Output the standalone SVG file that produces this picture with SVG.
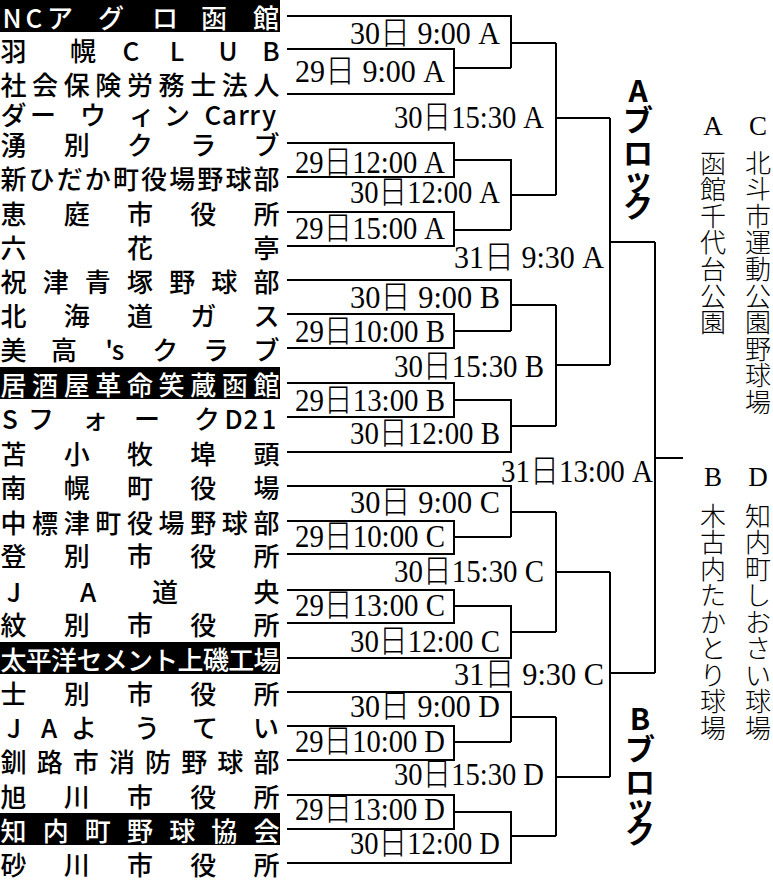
<svg xmlns="http://www.w3.org/2000/svg" width="773" height="880" viewBox="0 0 773 880">
<style>
.t{font-family:"Noto Sans CJK JP","Noto Sans",sans-serif;font-size:26px;font-weight:500;text-anchor:middle;dominant-baseline:central;fill:#000}
.w{fill:#fff}
.bg{fill:#000}
.m{font-family:"Liberation Serif","Noto Sans CJK JP",serif;font-size:32px;fill:#000}
.d{font-family:"Noto Sans CJK JP",sans-serif;font-weight:300}
.c{fill:none;stroke:#000;stroke-width:2}
.blk{font-family:"Noto Sans CJK JP","Noto Sans",sans-serif;font-weight:700;font-size:30px;text-anchor:middle;dominant-baseline:central;fill:#000}
.v{font-family:"Noto Sans CJK JP",sans-serif;font-size:26px;font-weight:300;text-anchor:middle;dominant-baseline:central;fill:#000}
.vl{font-family:"Liberation Serif",serif;font-size:27px;text-anchor:middle;dominant-baseline:central;fill:#000}
</style>
<rect width="773" height="880" fill="#fff"/>

<g id="teams">
<g id="team-01"><rect class="bg" x="0" y="0" width="280" height="32"/><text class="t w" y="16" x="12 34 60 111 165 214 266">NCアグロ函館</text></g>
<g id="team-02"><text class="t" y="49" x="13.5 83 131 177 228 271">羽幌CLUB</text></g>
<g id="team-03"><text class="t" y="83" x="13.5 45.13 76.75 108.38 140 171.63 203.25 234.88 266.5">社会保険労務士法人</text><text class="t" y="113" x="13.5 43 93 142 177 213 229.5 243.5 254.5 269">ダーウィンCarry</text></g>
<g id="team-04"><text class="t" y="143" x="13.5 76.75 140 203.25 266.5">湧別クラブ</text></g>
<g id="team-05"><text class="t" y="177" x="13.5 41.61 69.72 97.83 125.94 154.06 182.17 210.28 238.39 266.5">新ひだか町役場野球部</text></g>
<g id="team-06"><text class="t" y="212" x="13.5 76.75 140 203.25 266.5">恵庭市役所</text></g>
<g id="team-07"><text class="t" y="246" x="13.5 140 266.5">六花亭</text></g>
<g id="team-08"><text class="t" y="280" x="13.5 55.67 97.83 140 182.17 224.33 266.5">祝津青塚野球部</text></g>
<g id="team-09"><text class="t" y="314" x="13.5 76.75 140 203.25 266.5">北海道ガス</text></g>
<g id="team-10"><text class="t" y="348" x="13.5 64.1 109 118 165.3 215.9 266.5">美高'sクラブ</text></g>
<g id="team-11"><rect class="bg" x="0" y="367" width="280" height="32"/><text class="t w" y="383" x="13.5 45.13 76.75 108.38 140 171.63 203.25 234.88 266.5">居酒屋革命笑蔵函館</text></g>
<g id="team-12"><text class="t" y="417" x="10 41 95 147 207 233.5 251 269">SフォークD21</text></g>
<g id="team-13"><text class="t" y="452" x="13.5 76.75 140 203.25 266.5">苫小牧埠頭</text></g>
<g id="team-14"><text class="t" y="486" x="13.5 76.75 140 203.25 266.5">南幌町役場</text></g>
<g id="team-15"><text class="t" y="521" x="13.5 45.13 76.75 108.38 140 171.63 203.25 234.88 266.5">中標津町役場野球部</text></g>
<g id="team-16"><text class="t" y="554" x="13.5 76.75 140 203.25 266.5">登別市役所</text></g>
<g id="team-17"><text class="t" y="590" x="14 88 165 266.5">JA道央</text></g>
<g id="team-18"><text class="t" y="623" x="13.5 76.75 140 203.25 266.5">紋別市役所</text></g>
<g id="team-19"><rect class="bg" x="0" y="642" width="280" height="32"/><text class="t w" y="658" x="13.5 38.8 64.1 89.4 114.7 140 165.3 190.6 215.9 241.2 266.5">太平洋セメント上磯工場</text></g>
<g id="team-20"><text class="t" y="692" x="13.5 76.75 140 203.25 266.5">士別市役所</text></g>
<g id="team-21"><text class="t" y="726" x="14 49 84 147 205 266">JAようてい</text></g>
<g id="team-22"><text class="t" y="760" x="13.5 49.64 85.79 121.93 158.07 194.21 230.36 266.5">釧路市消防野球部</text></g>
<g id="team-23"><text class="t" y="795" x="13.5 76.75 140 203.25 266.5">旭川市役所</text></g>
<g id="team-24"><rect class="bg" x="0" y="813" width="280" height="32"/><text class="t w" y="829" x="13.5 55.67 97.83 140 182.17 224.33 266.5">知内町野球協会</text></g>
<g id="team-25"><text class="t" y="863" x="13.5 76.75 140 203.25 266.5">砂川市役所</text></g>
</g>

<g id="connectors" class="c">
<path d="M287 16H511V68"/>
<path d="M287 49H454V94H287"/>
<path d="M454 68H511"/>
<path d="M511 43H556"/>
<path d="M287 143H454V177H287"/>
<path d="M454 160H511V230"/>
<path d="M287 212H454V246H287"/>
<path d="M454 230H511"/>
<path d="M511 195H556"/>
<path d="M556 43V195"/>
<path d="M556 118H610"/>
<path d="M610 118V365"/>
<path d="M610 242H655"/>
<path d="M287 280H511V331"/>
<path d="M287 314H454V348H287"/>
<path d="M454 331H511"/>
<path d="M511 305H556"/>
<path d="M287 383H454V417H287"/>
<path d="M454 400H511V452H287"/>
<path d="M511 426H556"/>
<path d="M556 305V426"/>
<path d="M556 365H610"/>
<path d="M655 242V673"/>
<path d="M655 458H683"/>
<path d="M287 486H511V537"/>
<path d="M287 521H454V554H287"/>
<path d="M454 537H511"/>
<path d="M511 512H556"/>
<path d="M287 590H454V623H287"/>
<path d="M454 606H511V658H287"/>
<path d="M511 632H556"/>
<path d="M556 512V632"/>
<path d="M556 572H610"/>
<path d="M610 572V777"/>
<path d="M610 673H655"/>
<path d="M287 692H511V742"/>
<path d="M287 726H454V760H287"/>
<path d="M454 742H511"/>
<path d="M511 717H556"/>
<path d="M287 795H454V829H287"/>
<path d="M454 812H511V863H287"/>
<path d="M511 836H556"/>
<path d="M556 717V836"/>
<path d="M556 777H610"/>
</g>

<g id="match-labels" class="m">
<text id="mA1" x="350" y="44" textLength="150" lengthAdjust="spacingAndGlyphs">30<tspan class="d">日</tspan> 9:00 A</text>
<text id="mA2" x="295" y="82" textLength="150" lengthAdjust="spacingAndGlyphs">29<tspan class="d">日</tspan> 9:00 A</text>
<text id="mA3" x="394" y="128" textLength="150" lengthAdjust="spacingAndGlyphs">30<tspan class="d">日</tspan>15:30 A</text>
<text id="mA4" x="295" y="173" textLength="150" lengthAdjust="spacingAndGlyphs">29<tspan class="d">日</tspan>12:00 A</text>
<text id="mA5" x="350" y="203" textLength="150" lengthAdjust="spacingAndGlyphs">30<tspan class="d">日</tspan>12:00 A</text>
<text id="mA6" x="295" y="239" textLength="150" lengthAdjust="spacingAndGlyphs">29<tspan class="d">日</tspan>15:00 A</text>
<text id="mA7" x="454" y="268" textLength="150" lengthAdjust="spacingAndGlyphs">31<tspan class="d">日</tspan> 9:30 A</text>
<text id="mB1" x="350" y="308" textLength="150" lengthAdjust="spacingAndGlyphs">30<tspan class="d">日</tspan> 9:00 B</text>
<text id="mB2" x="295" y="342" textLength="150" lengthAdjust="spacingAndGlyphs">29<tspan class="d">日</tspan>10:00 B</text>
<text id="mB3" x="394" y="377" textLength="150" lengthAdjust="spacingAndGlyphs">30<tspan class="d">日</tspan>15:30 B</text>
<text id="mB4" x="295" y="411" textLength="150" lengthAdjust="spacingAndGlyphs">29<tspan class="d">日</tspan>13:00 B</text>
<text id="mB5" x="350" y="444" textLength="150" lengthAdjust="spacingAndGlyphs">30<tspan class="d">日</tspan>12:00 B</text>
<text id="mF" x="501" y="482" textLength="152" lengthAdjust="spacingAndGlyphs">31<tspan class="d">日</tspan>13:00 A</text>
<text id="mC1" x="350" y="513" textLength="150" lengthAdjust="spacingAndGlyphs">30<tspan class="d">日</tspan> 9:00 C</text>
<text id="mC2" x="295" y="547" textLength="150" lengthAdjust="spacingAndGlyphs">29<tspan class="d">日</tspan>10:00 C</text>
<text id="mC3" x="394" y="582" textLength="150" lengthAdjust="spacingAndGlyphs">30<tspan class="d">日</tspan>15:30 C</text>
<text id="mC4" x="295" y="616" textLength="150" lengthAdjust="spacingAndGlyphs">29<tspan class="d">日</tspan>13:00 C</text>
<text id="mC5" x="350" y="652" textLength="150" lengthAdjust="spacingAndGlyphs">30<tspan class="d">日</tspan>12:00 C</text>
<text id="mC6" x="454" y="685" textLength="150" lengthAdjust="spacingAndGlyphs">31<tspan class="d">日</tspan> 9:30 C</text>
<text id="mD1" x="350" y="717" textLength="150" lengthAdjust="spacingAndGlyphs">30<tspan class="d">日</tspan> 9:00 D</text>
<text id="mD2" x="295" y="752" textLength="150" lengthAdjust="spacingAndGlyphs">29<tspan class="d">日</tspan>10:00 D</text>
<text id="mD3" x="394" y="785" textLength="150" lengthAdjust="spacingAndGlyphs">30<tspan class="d">日</tspan>15:30 D</text>
<text id="mD4" x="295" y="820" textLength="150" lengthAdjust="spacingAndGlyphs">29<tspan class="d">日</tspan>13:00 D</text>
<text id="mD5" x="350" y="854" textLength="150" lengthAdjust="spacingAndGlyphs">30<tspan class="d">日</tspan>12:00 D</text>
</g>

<g id="block-A"><text class="blk" x="638 638 638 638 638" y="89 118 151 177 204">Aブロック</text></g>
<g id="block-B"><text class="blk" x="640 640 640 640 640" y="717 747 780 804 830">Bブロック</text></g>

<g id="venues">
<g id="venue-A"><text class="vl" x="713" y="126">A</text><text class="v" x="713 713 713 713 713 713 713" y="161 187.6 214.2 240.8 267.4 294 320.6">函館千代台公園</text></g>
<g id="venue-C"><text class="vl" x="758" y="126">C</text><text class="v" x="758 758 758 758 758 758 758 758 758 758" y="161 187.6 214.2 240.8 267.4 294 320.6 347.2 373.8 400.4">北斗市運動公園野球場</text></g>
<g id="venue-B"><text class="vl" x="713" y="477">B</text><text class="v" x="713 713 713 713 713 713 713 713 713" y="514 540.5 567 593.5 620 646.5 673 699.5 726">木古内たかとり球場</text></g>
<g id="venue-D"><text class="vl" x="758" y="477">D</text><text class="v" x="758 758 758 758 758 758 758 758 758" y="514 540.5 567 593.5 620 646.5 673 699.5 726">知内町しおさい球場</text></g>
</g>
</svg>
